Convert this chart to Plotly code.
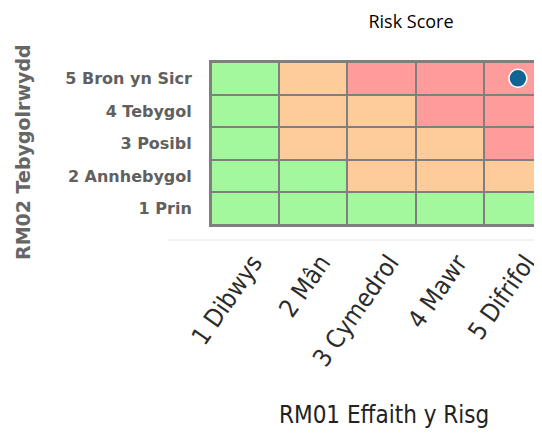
import plotly.graph_objects as go

impact_labels = ["1 Dibwys", "2 Mân", "3 Cymedrol", "4 Mawr", "5 Difrifol"]
likelihood_labels = ["1 Prin", "2 Annhebygol", "3 Posibl", "4 Tebygol", "5 Bron yn Sicr"]
impact_vals = [1, 2, 3, 4, 5]
likelihood_vals = [1, 2, 3, 4, 5]
# 0 = low (green), 1 = medium (orange), 2 = high (red); rows bottom->top
risk_levels = [
    [0, 0, 0, 0, 0],
    [0, 0, 1, 1, 1],
    [0, 1, 1, 1, 2],
    [0, 1, 1, 2, 2],
    [0, 1, 2, 2, 2],
]
point_impact = [5]
point_likelihood = [5]

GREEN = "#a3f89e"
ORANGE = "#fecb9b"
RED = "#fe9b9b"
GRID = "#7f7f7f"

fig = go.Figure()
fig.add_trace(go.Heatmap(
    x=impact_vals, y=likelihood_vals, z=risk_levels,
    zmin=0, zmax=2,
    colorscale=[[0, GREEN], [0.25, GREEN], [0.25, ORANGE], [0.75, ORANGE], [0.75, RED], [1, RED]],
    showscale=False, xgap=2, ygap=2, hoverinfo="skip",
))
fig.add_trace(go.Scatter(
    x=point_impact, y=point_likelihood, mode="markers",
    marker=dict(size=18, color="#0f6494", line=dict(color="white", width=1.5)),
    showlegend=False,
))

W, H = 542, 448
OFF = 8  # page body margin offset
L, T, B = 211 - OFF, 62 - OFF, 225 - OFF      # plot edges in figure px
PW, PH = W - L, B - T
COLW = 68.2
x_hi = 0.5 + PW / COLW


def px(xw):
    return (xw - OFF - L) / PW


def py(yw):
    return (B - (yw - OFF)) / PH


fig.update_layout(
    width=W, height=H,
    margin=dict(l=L, r=0, t=T, b=H - B, pad=0, autoexpand=False),
    paper_bgcolor="white", plot_bgcolor=GRID,
    showlegend=False,
    title=dict(text="Risk Score", x=px(411), xref="paper", xanchor="center",
               y=1 - (22 - OFF) / H, yref="container", yanchor="middle",
               font=dict(family="Open Sans", size=18, color="#000")),
    xaxis=dict(range=[0.5, x_hi], tickvals=impact_vals, ticktext=impact_labels,
               tickangle=-55, showgrid=False, zeroline=False, automargin=False,
               showline=True, mirror=True, linecolor=GRID, linewidth=2,
               ticks="", ticklabelshift=8, ticklabelstandoff=11,
               ticklabeloverflow="allow",
               tickfont=dict(family="DejaVu Sans Condensed, DejaVu Sans", size=25, color="#2b2b2b")),
    yaxis=dict(range=[0.5, 5.5], tickvals=likelihood_vals, ticktext=likelihood_labels,
               showgrid=False, zeroline=False, automargin=False,
               showline=True, mirror=False, linecolor=GRID, linewidth=2,
               ticks="", ticklabelstandoff=14,
               tickfont=dict(family="DejaVu Sans", size=16, color="#606060", weight="bold")),
    shapes=[dict(type="line", xref="paper", yref="paper",
                 x0=px(168), x1=1, y0=py(240), y1=py(240),
                 line=dict(color="#e6e6e6", width=1), layer="below")],
    annotations=[
        dict(text="RM01 Effaith y Risg", xref="paper", yref="paper",
             x=px(384), y=py(415), xanchor="center", yanchor="middle",
             showarrow=False,
             font=dict(family="DejaVu Sans Condensed, DejaVu Sans", size=24, color="#222")),
        dict(text="<b>RM02 Tebygolrwydd</b>", xref="paper", yref="paper",
             x=px(23), y=py(152), xanchor="center", yanchor="middle",
             textangle=-90, showarrow=False,
             font=dict(family="DejaVu Sans", size=19, color="#666")),
    ],
)

fig.write_html("out.html")
